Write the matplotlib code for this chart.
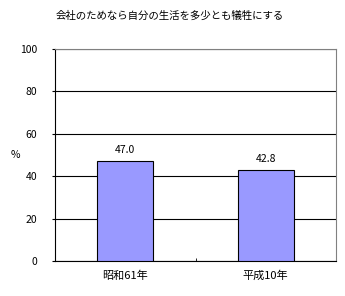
import matplotlib
matplotlib.use("Agg")
import matplotlib.pyplot as plt

plt.rcParams['font.family'] = ['Noto Sans CJK JP', 'DejaVu Sans']

title = "会社のためなら自分の生活を多少とも犠牲にする"
categories = ["昭和61年", "平成10年"]
values = [47.0, 42.8]
yticks = [0, 20, 40, 60, 80, 100]

fig = plt.figure(figsize=(3.45, 2.96), dpi=100)
ax = fig.add_axes([55/345, 35/296, 281/345, 212/296])

x = list(range(len(categories)))
ax.bar(x, values, width=0.4, color="#9999FF", edgecolor="black", linewidth=0.8, zorder=3)
for xi, v in zip(x, values):
    ax.text(xi, v + 3, f"{v:.1f}", ha="center", va="bottom", fontsize=7.5)

ax.set_xlim(-0.5, len(categories) - 0.5)
ax.set_ylim(0, 100)
ax.set_yticks(yticks)
ax.set_yticklabels([str(t) for t in yticks], fontsize=7.5)
ax.set_xticks(x)
ax.set_xticklabels(categories, fontsize=8)
ax.tick_params(axis="x", length=0, pad=7)
ax.set_xticks([0.5], minor=True)
ax.tick_params(axis="x", which="minor", length=2, direction="in")
ax.tick_params(axis="y", length=2, direction="out", pad=11)
ax.yaxis.grid(True, color="black", linewidth=0.8, zorder=0)
ax.set_axisbelow(True)

for s in ["left", "bottom"]:
    ax.spines[s].set_color("black")
    ax.spines[s].set_linewidth(0.8)
for s in ["top", "right"]:
    ax.spines[s].set_color("#808080")
    ax.spines[s].set_linewidth(0.8)

fig.text(15/345, 1 - 155/296, "%", fontsize=7.5, ha="center", va="center")
fig.text(170/345, 1 - 16/296, title, fontsize=7.5, ha="center", va="center")

fig.savefig("out.png", dpi=100)
